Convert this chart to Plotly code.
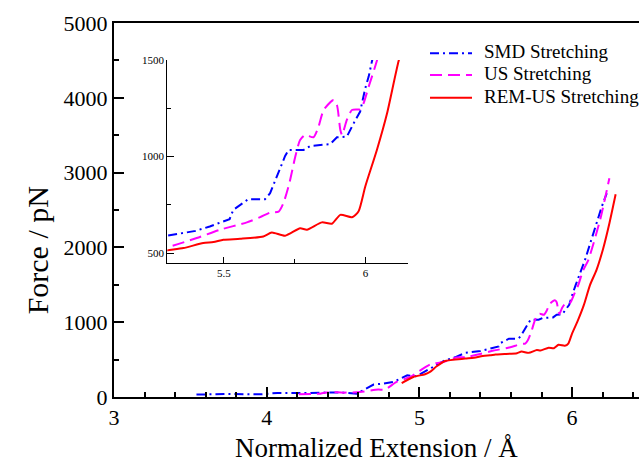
import plotly.graph_objects as go

# SMD Stretching (blue, dash-dot)
smd_x = [3.54, 3.74, 3.96, 4.07, 4.26, 4.39, 4.48, 4.59, 4.70, 4.76, 4.83, 4.92, 4.98,
         5.07, 5.16, 5.24, 5.30, 5.40, 5.45, 5.52, 5.533, 5.586, 5.645, 5.663, 5.687,
         5.716, 5.728, 5.781, 5.805, 5.875, 5.899, 5.934, 5.958, 5.981, 5.999, 6.011,
         6.023, 6.084, 6.150, 6.194, 6.227]
smd_f = [32, 40, 36, 54, 54, 54, 62, 45, 166, 179, 201, 290, 277,
         380, 482, 536, 590, 615, 638, 676, 724, 779, 779, 810, 896,
         1003, 1034, 1034, 1055, 1064, 1100, 1103, 1172, 1233, 1354, 1414,
         1496, 1830, 2276, 2544, 2724]

# US Stretching (magenta, dashed)
us_x = [4.21, 4.35, 4.415, 4.50, 4.61, 4.73, 4.775, 4.85, 4.94, 5.00, 5.07, 5.157,
        5.244, 5.30, 5.404, 5.486, 5.581, 5.628, 5.663, 5.693, 5.710, 5.731, 5.752,
        5.769, 5.787, 5.816, 5.834, 5.852, 5.887, 5.899, 5.911, 5.917, 5.934, 5.952,
        5.981, 5.993, 6.011, 6.040, 6.073, 6.106, 6.183, 6.244]
us_f = [36, 45, 67, 58, 67, 99, 99, 201, 268, 348, 434, 469,
        528, 531, 578, 621, 659, 686, 710, 715, 759, 862, 1000,
        1086, 1112, 1100, 1155, 1241, 1293, 1267, 1138, 1112, 1190, 1241,
        1245, 1276, 1362, 1496, 1697, 1830, 2366, 2924]

# REM-US Stretching (red, solid)
rem_x = [4.884, 4.96, 5.037, 5.069, 5.113, 5.168, 5.30, 5.357, 5.427, 5.463, 5.498,
         5.557, 5.639, 5.669, 5.716, 5.769, 5.793, 5.846, 5.881, 5.911, 5.952, 5.975,
         5.999, 6.040, 6.076, 6.117, 6.16, 6.204, 6.245, 6.285]
rem_f = [187, 268, 304, 335, 411, 482, 514, 526, 552, 557, 569,
         574, 586, 607, 590, 629, 621, 659, 652, 698, 686, 715,
         845, 1034, 1224, 1496, 1700, 1990, 2330, 2710]

names = ["SMD Stretching", "US Stretching", "REM-US Stretching"]
main_xticks = [3, 4, 5, 6]
main_yticks = [0, 1000, 2000, 3000, 4000, 5000]
inset_xticks = [5.5, 6]
inset_yticks = [500, 1000, 1500]

FONT = "Liberation Serif"
styles = [
    dict(color="#0000FF", width=2, dash="9px,4px,2px,4px"),
    dict(color="#FF00FF", width=2, dash="12px,6px"),
    dict(color="#FF0000", width=2, dash="solid"),
]
shapes_kind = ["linear", "spline", "spline"]
data = [(smd_x, smd_f), (us_x, us_f), (rem_x, rem_f)]

fig = go.Figure()
for axes in [("x", "y"), ("x2", "y2")]:
    for (x, f), n, st, shp in zip(data, names, styles, shapes_kind):
        ln = dict(st)
        ln["shape"] = shp
        if shp == "spline":
            ln["smoothing"] = 0.6
        fig.add_trace(go.Scatter(x=x, y=f, mode="lines", name=n, line=ln,
                                 xaxis=axes[0], yaxis=axes[1], showlegend=False,
                                 hoverinfo="skip"))

# legend drawn as shapes + text (paper coordinates)
leg_rows = [0.919, 0.861, 0.800]
shapes = []
annotations = []
for n, st, yy in zip(names, styles, leg_rows):
    shapes.append(dict(type="line", xref="paper", yref="paper",
                       x0=0.6019, x1=0.6819, y0=yy, y1=yy,
                       line=dict(color=st["color"], width=2, dash=st["dash"])))
    annotations.append(dict(text=n, xref="paper", yref="paper", x=0.7004, y=yy + 0.004,
                            xanchor="left", yanchor="middle", showarrow=False,
                            font=dict(family=FONT, size=19, color="black")))

annotations += [
    dict(text="Normalized Extension / Å", xref="paper", yref="paper",
         x=0.5, y=-0.137, xanchor="center", yanchor="middle", showarrow=False,
         font=dict(family=FONT, size=27, color="black")),
    dict(text="Force / pN", xref="paper", yref="paper",
         x=-0.1467, y=0.392, xanchor="center", yanchor="middle", showarrow=False,
         textangle=-90, font=dict(family=FONT, size=30, color="black")),
]

fig.update_layout(
    width=639, height=464,
    margin=dict(l=114, r=0, t=23, b=67),
    paper_bgcolor="white", plot_bgcolor="white",
    font=dict(family=FONT, color="black"),
    showlegend=False,
    shapes=shapes,
    annotations=annotations,
    xaxis=dict(range=[3, 6.438], tickvals=main_xticks, ticktext=[str(v) for v in main_xticks],
               ticks="inside", ticklen=10, tickwidth=2, tickcolor="black",
               minor=dict(dtick=0.2, ticks="inside", ticklen=5, tickwidth=2, tickcolor="black"),
               showline=True, linewidth=2, linecolor="black", mirror=True,
               showgrid=False, zeroline=False, automargin=False,
               tickfont=dict(family=FONT, size=22, color="black")),
    yaxis=dict(range=[0, 5000], tickvals=main_yticks, ticktext=[str(v) for v in main_yticks],
               ticks="inside", ticklen=10, tickwidth=2, tickcolor="black",
               minor=dict(dtick=500, ticks="inside", ticklen=5, tickwidth=2, tickcolor="black"),
               showline=True, linewidth=2, linecolor="black", mirror=False,
               showgrid=False, zeroline=False, automargin=False,
               tickfont=dict(family=FONT, size=22, color="black")),
    xaxis2=dict(domain=[0.1015, 0.5606], anchor="y2", range=[5.3, 6.151],
                tickvals=inset_xticks, ticktext=[str(v) for v in inset_xticks],
                ticks="inside", ticklen=6, tickwidth=1, tickcolor="black",
                minor=dict(dtick=0.25, tick0=5.0, ticks="inside", ticklen=4, tickwidth=1, tickcolor="black"),
                showline=True, linewidth=1, linecolor="black", mirror=False,
                showgrid=False, zeroline=False,
                tickfont=dict(family=FONT, size=11, color="black")),
    yaxis2=dict(domain=[0.359, 0.901], anchor="x2", range=[450, 1500],
                tickvals=inset_yticks, ticktext=[str(v) for v in inset_yticks],
                ticks="inside", ticklen=7, tickwidth=1, tickcolor="black",
                minor=dict(dtick=250, tick0=0, ticks="inside", ticklen=4, tickwidth=1, tickcolor="black"),
                showline=True, linewidth=1, linecolor="black", mirror=False,
                showgrid=False, zeroline=False,
                tickfont=dict(family=FONT, size=11, color="black")),
)

fig.write_html("out.html", config={"displayModeBar": False},
               post_script="document.body.style.margin='0px';")
